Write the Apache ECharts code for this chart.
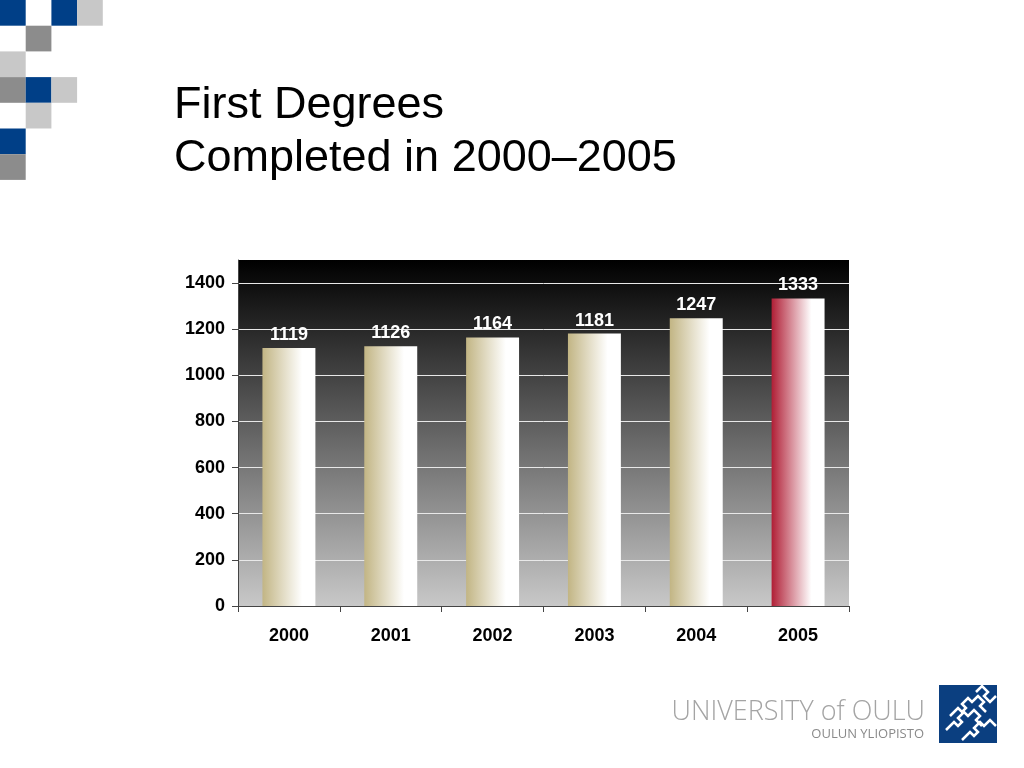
<!DOCTYPE html>
<html>
<head>
<meta charset="utf-8">
<script src="https://cdn.jsdelivr.net/npm/echarts@6/dist/echarts.min.js"></script>
<style>
html,body{margin:0;padding:0;background:#fff;}
#c{width:1024px;height:768px;}
</style>
</head>
<body>
<div id="c"></div>
<script>
const years = ['2000','2001','2002','2003','2004','2005'];
const degrees = [1119, 1126, 1164, 1181, 1247, 1333];
const highlightYear = '2005';

const chart = echarts.init(document.getElementById('c'));

function barGrad(c) {
  return new echarts.graphic.LinearGradient(0, 0, 1, 0, [
    {offset: 0, color: c},
    {offset: 0.75, color: '#ffffff'},
    {offset: 1, color: '#ffffff'}
  ]);
}

const B = '#003f87', G = '#8c8c8c', L = '#c8c8c8';
const cells = [
  [0,0,B],[2,0,B],[3,0,L],
  [1,1,G],
  [0,2,L],
  [0,3,G],[1,3,B],[2,3,L],
  [1,4,L],
  [0,5,B],
  [0,6,G]
];
const cs = 25.7;
const deco = cells.map(c => ({
  type: 'rect',
  shape: {x: c[0]*cs, y: c[1]*cs, width: cs, height: cs},
  style: {fill: c[2]}
}));

const logoLines = [
  [[950,716],[958,708],[962,712],[966,708],[962,704],[968,698],[972,702],[978,696],[984,702],[980,706],[986,712]],
  [[946,730],[954,722],[958,726],[962,722],[958,718],[964,712],[968,716],[974,710],[980,716],[976,720],[982,726]],
  [[962,740],[970,732],[974,736],[978,732],[974,728],[980,722],[984,726],[990,720],[996,726]],
  [[976,692],[982,686],[988,692],[984,696],[990,702],[996,696]]
];

const FONT = '"Liberation Sans", Arial, sans-serif';

chart.setOption({
  animation: false,
  graphic: deco.concat([
    {type: 'text', left: 174, top: 83, style: {text: 'First Degrees', font: '45px "Liberation Sans", Arial, sans-serif', fill: '#000'}},
    {type: 'text', left: 174, top: 136, style: {text: 'Completed in 2000–2005', font: '45px "Liberation Sans", Arial, sans-serif', fill: '#000'}},
    {type: 'text', right: 99, top: 699, style: {text: 'UNIVERSITY of OULU', font: '300 27px "Open Sans", sans-serif', fill: '#a4a4a4'}},
    {type: 'text', right: 100, top: 728, style: {text: 'OULUN YLIOPISTO', font: '13px "Open Sans", sans-serif', fill: '#8a8a8a'}},
    {type: 'rect', shape: {x: 939, y: 685, width: 58, height: 58}, style: {fill: '#0b3f80'}}
  ]).concat(logoLines.map(p => ({
    type: 'polyline', shape: {points: p}, style: {stroke: '#fff', lineWidth: 2.5, fill: null}
  }))),
  grid: {left: 238, right: 175, top: 260, bottom: 162, show: true, borderWidth: 0,
    backgroundColor: new echarts.graphic.LinearGradient(0, 0, 0, 1, [
      {offset: 0, color: '#000000'},
      {offset: 1, color: '#c8c8c8'}
    ])},
  xAxis: {
    type: 'category', data: years,
    axisLine: {lineStyle: {color: '#444', width: 1}},
    axisTick: {show: true, length: 6, lineStyle: {color: '#444'}},
    axisLabel: {color: '#000', fontSize: 18, fontWeight: 'bold', fontFamily: FONT, margin: 21}
  },
  yAxis: {
    type: 'value', min: 0, max: 1500, interval: 200,
    axisLine: {show: true, lineStyle: {color: '#444', width: 1}},
    axisTick: {show: true, length: 6, lineStyle: {color: '#444'}},
    axisLabel: {color: '#000', fontSize: 18, fontWeight: 'bold', fontFamily: FONT, margin: 13,
      showMaxLabel: false, formatter: v => String(v)},
    splitLine: {show: true, showMaxLine: false, lineStyle: {color: '#e8e8e8', width: 1}}
  },
  series: [{
    type: 'bar',
    barWidth: '52%',
    data: degrees.map((v, i) => ({
      value: v,
      itemStyle: {color: barGrad(years[i] === highlightYear ? '#b01e35' : '#c2b584')}
    })),
    label: {show: true, position: 'top', distance: 4, color: '#fff', fontSize: 18, fontWeight: 'bold', fontFamily: FONT}
  }]
});
</script>
</body>
</html>
